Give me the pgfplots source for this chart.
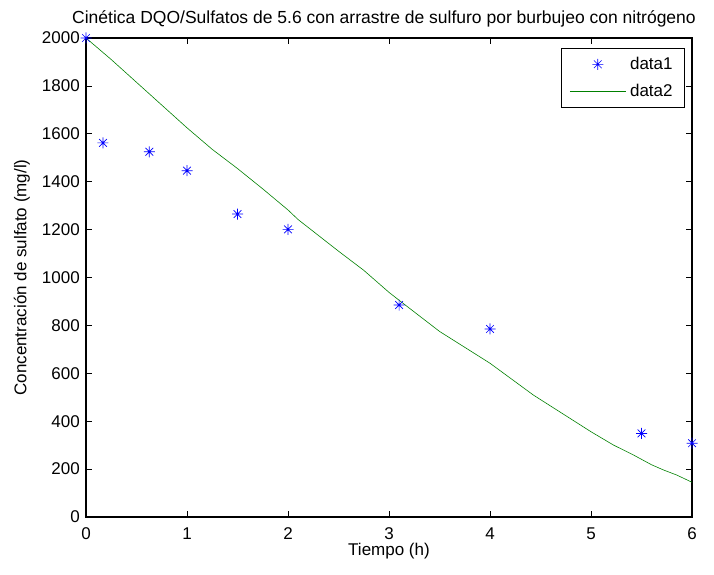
\documentclass[border=0pt]{standalone}
\usepackage{pgfplots}
\pgfplotsset{compat=1.18}
\usepackage{fontspec}
\setmainfont{Liberation Sans}
\pgfdeclareplotmark{mstar}{%
  \pgfpathmoveto{\pgfqpoint{-\pgfplotmarksize}{0pt}}%
  \pgfpathlineto{\pgfqpoint{\pgfplotmarksize}{0pt}}%
  \pgfpathmoveto{\pgfqpoint{0pt}{-\pgfplotmarksize}}%
  \pgfpathlineto{\pgfqpoint{0pt}{\pgfplotmarksize}}%
  \pgfpathmoveto{\pgfqpoint{-0.7\pgfplotmarksize}{-0.7\pgfplotmarksize}}%
  \pgfpathlineto{\pgfqpoint{0.7\pgfplotmarksize}{0.7\pgfplotmarksize}}%
  \pgfpathmoveto{\pgfqpoint{-0.7\pgfplotmarksize}{0.7\pgfplotmarksize}}%
  \pgfpathlineto{\pgfqpoint{0.7\pgfplotmarksize}{-0.7\pgfplotmarksize}}%
  \pgfusepathqstroke}
\definecolor{mblue}{RGB}{0,0,255}
\definecolor{mgreen}{RGB}{0,128,0}
\newcommand{\mfont}{\fontsize{17bp}{20bp}\selectfont}
\begin{document}
\begin{tikzpicture}
\begin{axis}[
  name=ax,
  scale only axis,
  width=606bp, height=479bp,
  xmin=0, xmax=6, ymin=0, ymax=2000,
  xtick={0,1,2,3,4,5,6},
  ytick={0,200,400,600,800,1000,1200,1400,1600,1800,2000},
  tick align=inside,
  major tick length=6bp,
  tick style={black, line width=0.6pt},
  axis line style={line width=1.1pt},
  clip=false,
  tick label style={font=\mfont},
  /pgf/number format/assume math mode=true,
  /pgf/number format/1000 sep={},
  title={Cinética DQO/Sulfatos de 5.6 con arrastre de sulfuro por burbujeo con nitrógeno},
  xlabel={Tiempo (h)},
  ylabel={Concentración de sulfato (mg/l)},
  every axis title/.style={font=\fontsize{17.5bp}{20bp}\selectfont, at={(axis description cs:0.5,1)}, anchor=base, yshift=14bp, xshift=-5bp},
  every axis x label/.style={font=\mfont, at={(axis description cs:0.5,0)}, anchor=base, yshift=-38bp},
  every axis y label/.style={font=\mfont, at={(axis description cs:-0.1056,0.5)}, rotate=90, anchor=center},
  xticklabel style={anchor=base, yshift=-22bp},
  yticklabel style={inner xsep=6bp},
  legend style={at={(1,1)}, anchor=north east, xshift=-7bp, yshift=-10bp,
    draw=black, line width=0.8pt, font=\mfont,
    row sep=7bp, inner xsep=8bp, inner ysep=6bp,
    legend cell align=left,
    nodes={inner xsep=4bp, inner ysep=3bp}},
  legend image post style={line width=0.6pt},
  legend image code/.code={%
    \draw[mark repeat=2,mark phase=2,#1]
      plot coordinates {(0bp,0bp) (28bp,0bp) (56bp,0bp)};},
]
\addplot[only marks, mark=mstar, mark size=5.5bp, mblue, line width=0.7pt] coordinates {
  (0,2000) (0.168,1562) (0.627,1525) (1.0,1446) (1.5,1265) (2.0,1201)
  (3.1,885) (4.0,785) (5.5,349) (6.0,308)
};
\addlegendentry{data1}
\addplot[mgreen, line width=0.6pt] coordinates {
  (0,2000) (0.25,1910) (0.5,1815) (0.75,1720) (1.0,1625) (1.25,1535)
  (1.5,1455) (1.75,1370) (2.0,1282) (2.1,1242) (2.5,1110) (2.75,1030)
  (3.0,938) (3.1,905) (3.5,775) (4.0,642) (4.43,509) (5.0,356) (5.22,301)
  (5.42,259) (5.6,218) (5.72,196) (5.85,175) (6.0,145)
};
\addlegendentry{data2}
\end{axis}
\path ([xshift=-86bp,yshift=-57bp]ax.south west) rectangle ([xshift=22bp,yshift=38bp]ax.north east);
\end{tikzpicture}
\end{document}
